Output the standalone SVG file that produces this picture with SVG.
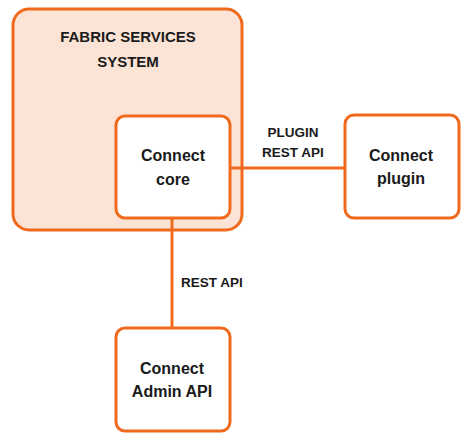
<svg xmlns="http://www.w3.org/2000/svg" width="474" height="442" viewBox="0 0 474 442">
<style>
.box{fill:#ffffff;stroke:#F06A1E;stroke-width:3}
.outer{fill:#FBE4D6;stroke:#F06A1E;stroke-width:3}
.conn{stroke:#F06A1E;stroke-width:3;fill:none}
text{font-family:"Liberation Sans",Arial,sans-serif;font-weight:bold;fill:#1a1a1a;text-anchor:middle}
.t16{font-size:16px}
.t15{font-size:15px}
.t13{font-size:13.5px}
</style>
<rect width="474" height="442" fill="#ffffff"/>
<g id="fabric-services-system">
<rect class="outer" x="13" y="9" width="229" height="221" rx="16"/>
<text class="t15" x="128" y="42">FABRIC SERVICES</text>
<text class="t15" x="128" y="67">SYSTEM</text>
</g>
<g id="connectors">
<line class="conn" x1="230" y1="168" x2="345" y2="168"/>
<line class="conn" x1="172" y1="218" x2="172" y2="328"/>
<text class="t13" x="293" y="137">PLUGIN</text>
<text class="t13" x="293" y="157">REST API</text>
<text class="t13" x="212" y="287">REST API</text>
</g>
<g id="connect-core">
<rect class="box" x="116" y="116" width="114" height="102" rx="9"/>
<text class="t16" x="173" y="161">Connect</text>
<text class="t16" x="173" y="185">core</text>
</g>
<g id="connect-plugin">
<rect class="box" x="345" y="115" width="114" height="103" rx="9"/>
<text class="t16" x="401" y="161">Connect</text>
<text class="t16" x="401" y="184">plugin</text>
</g>
<g id="connect-admin-api">
<rect class="box" x="116" y="328" width="114" height="103" rx="9"/>
<text class="t16" x="172" y="374">Connect</text>
<text class="t16" x="172" y="397">Admin API</text>
</g>
</svg>
